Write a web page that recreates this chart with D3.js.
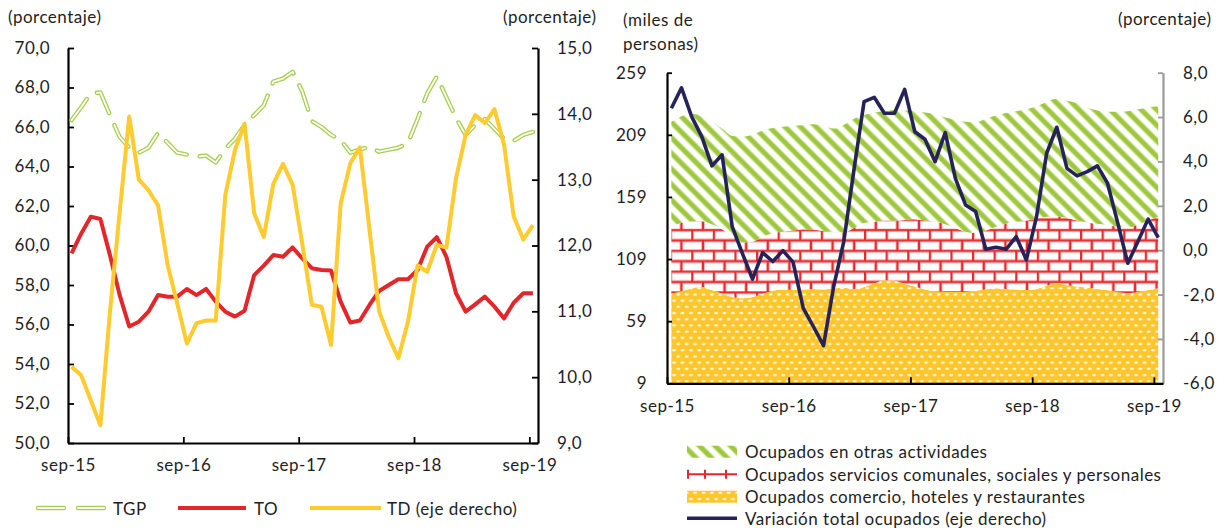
<!DOCTYPE html>
<html>
<head>
<meta charset="utf-8">
<script src="https://cdn.jsdelivr.net/npm/d3@7"></script>
<style>
  body { margin: 0; background: #fff; }
  svg { display: block; }
</style>
</head>
<body>
<svg id="chart" width="1224" height="531"></svg>
<script>
// ---- data (monthly, sep-15 .. sep-19) ----
const xLabels = ["sep-15", "sep-16", "sep-17", "sep-18", "sep-19"];

// left panel: rates (porcentaje)
const tgp = [66.35, 67.0, 67.7, 67.75, 66.6, 65.5, 64.95, 64.7, 64.95, 65.7, 65.2, 64.7,
  64.6, 64.5, 64.55, 64.2, 64.9, 65.4, 66.1, 66.6, 67.1, 68.3, 68.45, 68.8,
  67.8, 66.3, 66.0, 65.6, 65.35, 64.7, 64.85, 65.0, 64.75, 64.85, 64.95, 65.2,
  66.4, 67.7, 68.55, 67.5, 66.45, 65.6, 66.1, 66.4, 65.9, 65.4, 65.3, 65.6, 65.75];
const to = [59.6, 60.6, 61.46, 61.34, 59.5, 57.5, 55.9, 56.14, 56.65, 57.49, 57.41, 57.41,
  57.8, 57.49, 57.8, 57.16, 56.65, 56.4, 56.7, 58.5, 58.98, 59.52, 59.43, 59.9,
  59.35, 58.85, 58.76, 58.73, 57.16, 56.1, 56.2, 56.99, 57.7, 58.0, 58.29, 58.29,
  58.76, 59.94, 60.42, 59.43, 57.58, 56.65, 57.02, 57.41, 56.9, 56.31, 57.1, 57.58, 57.58];
const td = [10.16, 10.03, 9.65, 9.27, 11.0, 12.5, 13.96, 13.0, 12.84, 12.61, 11.7, 11.12,
  10.51, 10.82, 10.86, 10.86, 12.77, 13.45, 13.85, 12.49, 12.13, 12.94, 13.24, 12.92,
  12.03, 11.1, 11.07, 10.49, 12.64, 13.25, 13.49, 12.24, 11.0, 10.61, 10.29, 10.84,
  11.7, 11.6, 12.01, 11.97, 13.02, 13.68, 13.98, 13.86, 14.07, 13.53, 12.44, 12.09, 12.31];

// right panel: employed by sector (miles de personas), stacked
const comercio = [81, 83, 85.5, 86.5, 84, 81, 78.5, 77.5, 78.5, 81, 83.5, 84.5,
  84, 84.5, 85, 84.5, 85.5, 86, 85, 86.5, 89.5, 92, 91.5, 89,
  87, 84.5, 83, 82.5, 82.5, 82.5, 83.5, 84.5, 85.5, 85, 84.5, 84,
  85, 87.5, 89.5, 88, 87, 86, 85, 84, 82.5, 81.5, 82.5, 84, 85.5];
const servicios = [55, 55, 54, 53, 53, 52, 48.5, 45, 44.5, 46, 46.5, 46.5,
  48, 48.5, 47.5, 47, 45.5, 44.5, 49, 51.5, 49.5, 48, 48.5, 51.5,
  54, 55.5, 56, 54.5, 51.5, 48.5, 46.5, 47.5, 49.5, 52.5, 54.5, 56,
  56.5, 55.5, 54, 54, 53, 52.5, 52.5, 52.5, 52.5, 53, 54, 56, 57.5];
const otras = [83.5, 86, 86.5, 84.5, 83, 81, 81, 85, 86, 85.5, 84.5, 84.5,
  84, 84, 85, 84.5, 83, 86.5, 88, 87, 88, 88, 89, 88,
  87, 87, 86.5, 86, 87, 88.5, 89, 90, 89.5, 89, 89, 89.5,
  90.5, 92.5, 94.5, 94.5, 94.5, 92.5, 91, 91, 92.5, 93.5, 93, 91, 89];
// variación total ocupados (porcentaje, eje derecho)
const variacion = [6.4, 7.32, 6.02, 5.12, 3.8, 4.3, 1.06, -0.14, -1.3, -0.11, -0.51, -0.02,
  -0.54, -2.61, -3.44, -4.3, -1.64, 0.39, 3.62, 6.7, 6.89, 6.17, 6.17, 7.25,
  5.34, 5.0, 3.99, 5.3, 3.24, 2.04, 1.74, 0.04, 0.13, 0.04, 0.61, -0.44,
  1.51, 4.37, 5.54, 3.69, 3.35, 3.54, 3.8, 3.02, 1.24, -0.59, 0.39, 1.4, 0.57];

const leftTicks = [50, 52, 54, 56, 58, 60, 62, 64, 66, 68, 70];
const tdTicks = [9, 10, 11, 12, 13, 14, 15];
const milesTicks = [9, 59, 109, 159, 209, 259];
const varTicks = [-6, -4, -2, 0, 2, 4, 6, 8];
const monthTicks = [0, 12, 24, 36, 48];

// ---- style ----
const fontFamily = "Lato, 'Open Sans', sans-serif";
const fontSize = "17px";
const spacing = "0.5px";
const ink = "#1e1e1e";
const colTGP = "#a6cf4f";
const colTO = "#e3262a";
const colTD = "#ffcb2f";
const colVar = "#26235a";

const locale = d3.formatLocale({ decimal: ",", thousands: ".", grouping: [3], currency: ["$", ""], minus: "-" });
const fmt1 = locale.format(".1f");

const svg = d3.select("#chart")
  .style("font-family", fontFamily)
  .style("font-size", fontSize)
  .style("letter-spacing", spacing);

const defs = svg.append("defs");

// green diagonal hatch
const hatch = defs.append("pattern")
  .attr("id", "hatch")
  .attr("patternUnits", "userSpaceOnUse")
  .attr("width", 11).attr("height", 11)
  .attr("patternTransform", "rotate(-45)");
hatch.append("rect").attr("width", 11).attr("height", 11).attr("fill", "#fff");
hatch.append("rect").attr("x", 0.5).attr("width", 5.8).attr("height", 11).attr("fill", "#c5e08a");
hatch.append("rect").attr("x", 1.3).attr("width", 4.2).attr("height", 11).attr("fill", "#9dc73d");

// red bricks
const brick = defs.append("pattern")
  .attr("id", "brick")
  .attr("patternUnits", "userSpaceOnUse")
  .attr("width", 21.6).attr("height", 20.8);
brick.append("rect").attr("width", 21.6).attr("height", 20.8).attr("fill", "#fff");
const brickPath = "M0,1.2H21.6M0,11.6H21.6M1,1.2V11.6M11.8,11.6V20.8M11.8,0V1.2";
brick.append("path").attr("d", brickPath).attr("stroke", "#f6b3b3").attr("stroke-width", 3.8).attr("fill", "none");
brick.append("path").attr("d", brickPath).attr("stroke", "#e8262b").attr("stroke-width", 1.9).attr("fill", "none");

// yellow with white dots
const dots = defs.append("pattern")
  .attr("id", "dots")
  .attr("patternUnits", "userSpaceOnUse")
  .attr("width", 8.4).attr("height", 12.4);
dots.append("rect").attr("width", 8.4).attr("height", 12.4).attr("fill", "#fcc62c");
dots.append("ellipse").attr("cx", 2.1).attr("cy", 3.1).attr("rx", 2.1).attr("ry", 1.1).attr("fill", "#fff").attr("opacity", 0.85);
dots.append("ellipse").attr("cx", 6.3).attr("cy", 9.3).attr("rx", 2.1).attr("ry", 1.1).attr("fill", "#fff").attr("opacity", 0.85);

function styleAxis(g, color) {
  g.select(".domain").attr("stroke", color).attr("stroke-width", 2.2);
  g.selectAll(".tick line").attr("stroke", color).attr("stroke-width", 1.8);
  g.selectAll(".tick text").attr("fill", ink)
    .style("font-size", fontSize).style("font-family", fontFamily).style("letter-spacing", spacing);
}

function title(x, y, txt, anchor) {
  svg.append("text")
    .attr("x", x).attr("y", y)
    .attr("dominant-baseline", "central")
    .attr("text-anchor", anchor || "start")
    .attr("fill", ink)
    .text(txt);
}

// ================= LEFT PANEL =================
const xL = d3.scaleLinear().domain([0, 48.9]).range([68, 538]);
const yL = d3.scaleLinear().domain([50, 70]).range([443, 48]);
const yL2 = d3.scaleLinear().domain([9, 15]).range([443, 48]);
const shiftL = 0.37;

title(8, 16, "(porcentaje)");
title(503, 16, "(porcentaje)");

svg.append("g").attr("transform", "translate(68,0)")
  .call(d3.axisLeft(yL).tickValues(leftTicks).tickFormat(fmt1).tickSize(-6).tickSizeOuter(0).tickPadding(18))
  .call(g => styleAxis(g, "#000"));

svg.append("g").attr("transform", "translate(538,0)")
  .call(d3.axisRight(yL2).tickValues(tdTicks).tickFormat(fmt1).tickSize(-6).tickSizeOuter(0).tickPadding(19))
  .call(g => styleAxis(g, "#000"));

svg.append("g").attr("transform", "translate(0,443)")
  .call(d3.axisBottom(xL).tickValues(monthTicks).tickFormat((d, i) => xLabels[i]).tickSize(-6).tickSizeOuter(0).tickPadding(16))
  .call(g => styleAxis(g, "#000"));

const lineL = d3.line().x((d, i) => xL(i + shiftL)).y(d => yL(d));
const lineL2 = d3.line().x((d, i) => xL(i + shiftL)).y(d => yL2(d));

// TGP: dashed double line
svg.append("path").datum(tgp).attr("d", lineL)
  .attr("fill", "none").attr("stroke", colTGP).attr("stroke-width", 4.4)
  .attr("stroke-dasharray", "26,13").attr("stroke-linecap", "round").attr("stroke-linejoin", "round");
svg.append("path").datum(tgp).attr("d", lineL)
  .attr("fill", "none").attr("stroke", "#fff").attr("stroke-width", 1.8)
  .attr("stroke-dasharray", "26,13").attr("stroke-linecap", "round").attr("stroke-linejoin", "round");

svg.append("path").datum(to).attr("d", lineL)
  .attr("fill", "none").attr("stroke", colTO).attr("stroke-width", 4).attr("stroke-linejoin", "round");

svg.append("path").datum(td).attr("d", lineL2)
  .attr("fill", "none").attr("stroke", colTD).attr("stroke-width", 4).attr("stroke-linejoin", "round");

// left legend
const legY = 508;
svg.append("path").attr("d", `M38,${legY}H104`)
  .attr("stroke", colTGP).attr("stroke-width", 4.4).attr("stroke-dasharray", "26,14").attr("stroke-linecap", "round");
svg.append("path").attr("d", `M38,${legY}H104`)
  .attr("stroke", "#fff").attr("stroke-width", 1.8).attr("stroke-dasharray", "26,14").attr("stroke-linecap", "round");
title(113, legY, "TGP");
svg.append("line").attr("x1", 178).attr("x2", 246).attr("y1", legY).attr("y2", legY)
  .attr("stroke", colTO).attr("stroke-width", 4);
title(254, legY, "TO");
svg.append("line").attr("x1", 310).attr("x2", 381).attr("y1", legY).attr("y2", legY)
  .attr("stroke", colTD).attr("stroke-width", 4);
title(387, legY, "TD (eje derecho)");

// ================= RIGHT PANEL =================
const xR = d3.scaleLinear().domain([0, 48.9]).range([667, 1163]);
const yM = d3.scaleLinear().domain([9, 259]).range([383.3, 72.7]);
const yV = d3.scaleLinear().domain([-6, 8]).range([383.3, 72.7]);
const shiftR = 0.43;

title(623, 19, "(miles de");
title(623, 43, "personas)");
title(1118, 18, "(porcentaje)");

defs.append("clipPath").attr("id", "clipR")
  .append("rect").attr("x", 667).attr("y", 72.7).attr("width", 496).attr("height", 310.6);

const rows = comercio.map((c, i) => ({ i: i, comercio: c, servicios: servicios[i], otras: otras[i] }));
const stacked = d3.stack().keys(["comercio", "servicios", "otras"])(rows);
const fills = { comercio: "url(#dots)", servicios: "url(#brick)", otras: "url(#hatch)" };

const area = d3.area()
  .x(d => xR(d.data.i + shiftR))
  .y0(d => yM(d[0]))
  .y1(d => yM(d[1]))
  .curve(d3.curveMonotoneX);

svg.append("g").attr("clip-path", "url(#clipR)")
  .selectAll("path")
  .data(stacked)
  .join("path")
  .attr("fill", d => fills[d.key])
  .attr("d", area);

svg.append("g").attr("transform", "translate(667,0)")
  .call(d3.axisLeft(yM).tickValues(milesTicks).tickFormat(d3.format("d")).tickSize(-5).tickSizeOuter(0).tickPadding(20))
  .call(g => styleAxis(g, "#000"));

svg.append("g").attr("transform", "translate(1163,0)")
  .call(d3.axisRight(yV).tickValues(varTicks).tickFormat(fmt1).tickSize(-5).tickSizeOuter(0).tickPadding(20))
  .call(g => styleAxis(g, "#9a9a9a"));

svg.append("g").attr("transform", "translate(0,383.3)")
  .call(d3.axisBottom(xR).tickValues(monthTicks).tickFormat((d, i) => xLabels[i]).tickSize(-6).tickSizeOuter(0).tickPadding(17))
  .call(g => styleAxis(g, "#000"));

const lineV = d3.line().x((d, i) => xR(i + shiftR)).y(d => yV(d));
svg.append("path").datum(variacion).attr("d", lineV)
  .attr("fill", "none").attr("stroke", colVar).attr("stroke-width", 3.6).attr("stroke-linejoin", "round");

// right legend
const lx0 = 687, lx1 = 737, lt = 745;
const rowY = [451.7, 474.3, 496.7, 518.3];
svg.append("rect").attr("x", lx0).attr("y", rowY[0] - 6).attr("width", lx1 - lx0).attr("height", 12)
  .attr("fill", "url(#hatch)");
title(lt, rowY[0], "Ocupados en otras actividades");

svg.append("path")
  .attr("d", `M${lx0},${rowY[1]}H${lx1}M${lx0 + 1},${rowY[1] - 4.5}V${rowY[1] + 4.5}M${lx0 + 18},${rowY[1] - 4.5}V${rowY[1] + 4.5}M${lx0 + 39},${rowY[1] - 4.5}V${rowY[1] + 4.5}`)
  .attr("stroke", "#e8262b").attr("stroke-width", 2).attr("fill", "none");
title(lt, rowY[1], "Ocupados servicios comunales, sociales y personales");

svg.append("rect").attr("x", lx0).attr("y", rowY[2] - 6).attr("width", lx1 - lx0).attr("height", 12)
  .attr("fill", "url(#dots)");
title(lt, rowY[2], "Ocupados comercio, hoteles y restaurantes");

svg.append("line").attr("x1", lx0).attr("x2", lx1).attr("y1", rowY[3]).attr("y2", rowY[3])
  .attr("stroke", colVar).attr("stroke-width", 3.6);
title(lt, rowY[3], "Variación total ocupados (eje derecho)");
</script>
</body>
</html>
